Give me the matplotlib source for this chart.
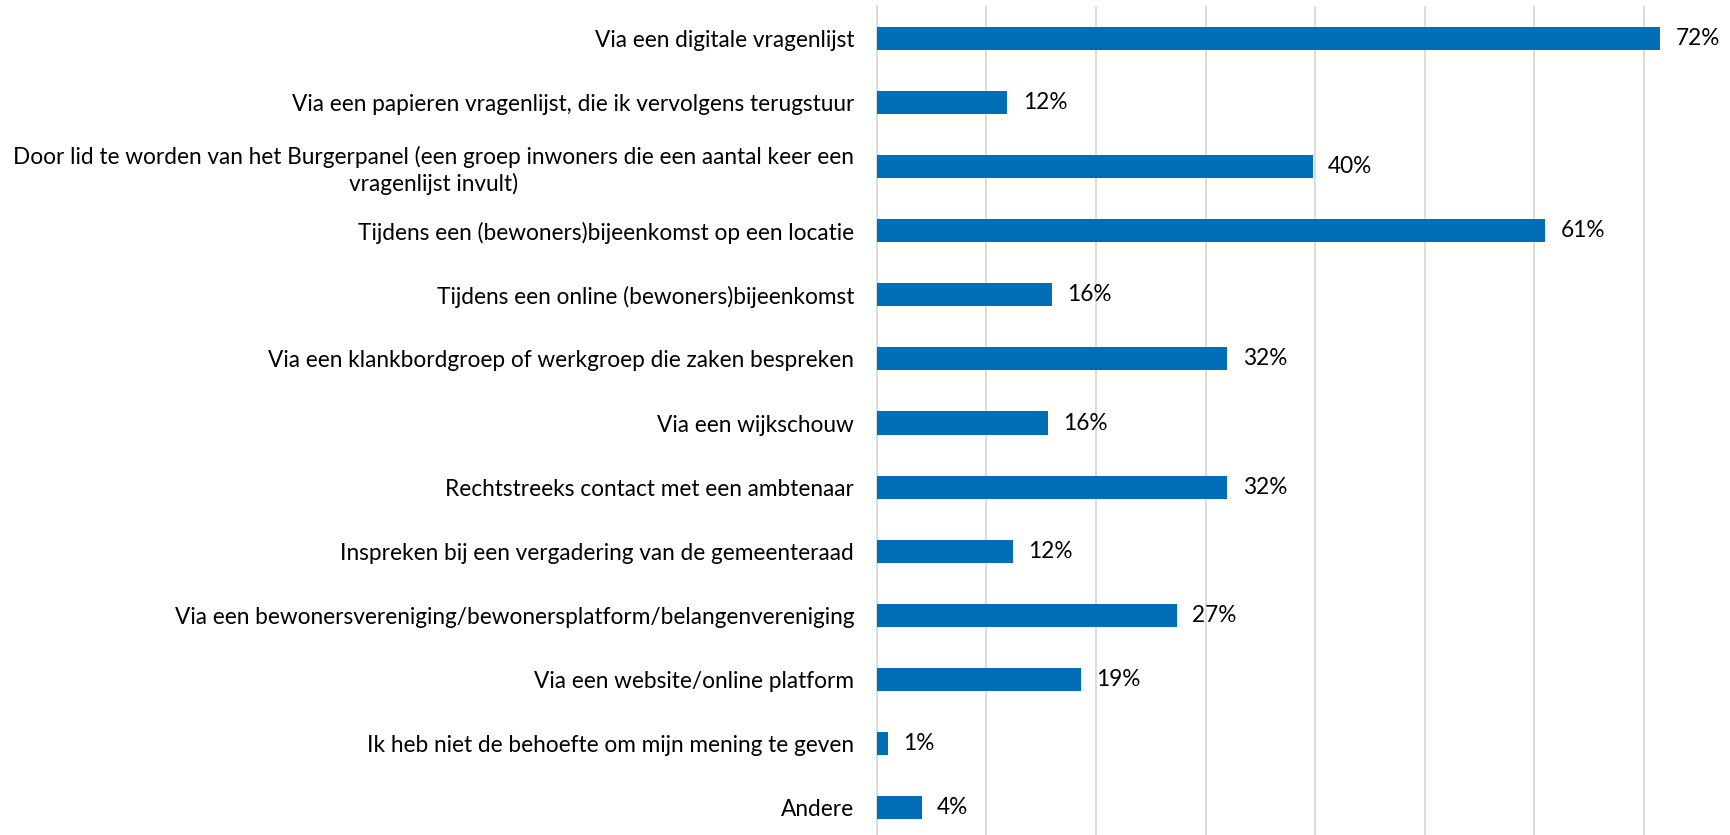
import matplotlib.pyplot as plt
import numpy as np

plt.rcParams['font.family'] = ['Lato', 'DejaVu Sans']

# categories (top to bottom) and percentages
categories = [
    'Via een digitale vragenlijst',
    'Via een papieren vragenlijst, die ik vervolgens terugstuur',
    'Door lid te worden van het Burgerpanel (een groep inwoners die een aantal keer een\nvragenlijst invult)',
    'Tijdens een (bewoners)bijeenkomst op een locatie',
    'Tijdens een online (bewoners)bijeenkomst',
    'Via een klankbordgroep of werkgroep die zaken bespreken',
    'Via een wijkschouw',
    'Rechtstreeks contact met een ambtenaar',
    'Inspreken bij een vergadering van de gemeenteraad',
    'Via een bewonersvereniging/bewonersplatform/belangenvereniging',
    'Via een website/online platform',
    'Ik heb niet de behoefte om mijn mening te geven',
    'Andere',
]
values = [71.5, 11.9, 39.8, 61.0, 16.0, 32.0, 15.6, 32.0, 12.4, 27.4, 18.6, 1.0, 4.1]
ticks = np.arange(0, 90, 10)

bar_color = '#006EB6'
grid_color = '#D9D9D9'

fig = plt.figure(figsize=(17.31, 8.35), dpi=100)
# axes runs a little past the right/bottom edges, like the cropped original
ax = fig.add_axes([877 / 1731, -5 / 835, 876 / 1731, 834 / 835])

y = np.arange(len(categories))
ax.barh(y, values, height=0.36, color=bar_color, zorder=3)

for yi, v in zip(y, values):
    ax.text(v + 1.4, yi, f'{v:.0f}%', va='center', ha='left', fontsize=16.3, color='black')

ax.set_xlim(0, 80)
ax.set_ylim(len(categories) - 0.5, -0.5)
ax.set_xticks(ticks)
ax.xaxis.grid(True, color=grid_color, linewidth=1.3, zorder=0)
ax.tick_params(axis='x', bottom=False, labelbottom=False)
ax.tick_params(axis='y', length=0, pad=16.5, labelsize=16.3)
ax.set_yticks(y)
ax.set_yticklabels(categories)
for lbl in ax.get_yticklabels():
    lbl.set_multialignment('center')
    lbl.set_linespacing(1.25)

for side in ['top', 'right', 'bottom']:
    ax.spines[side].set_visible(False)
ax.spines['left'].set_color(grid_color)
ax.spines['left'].set_linewidth(1.3)

fig.savefig('out.png', dpi=100)
